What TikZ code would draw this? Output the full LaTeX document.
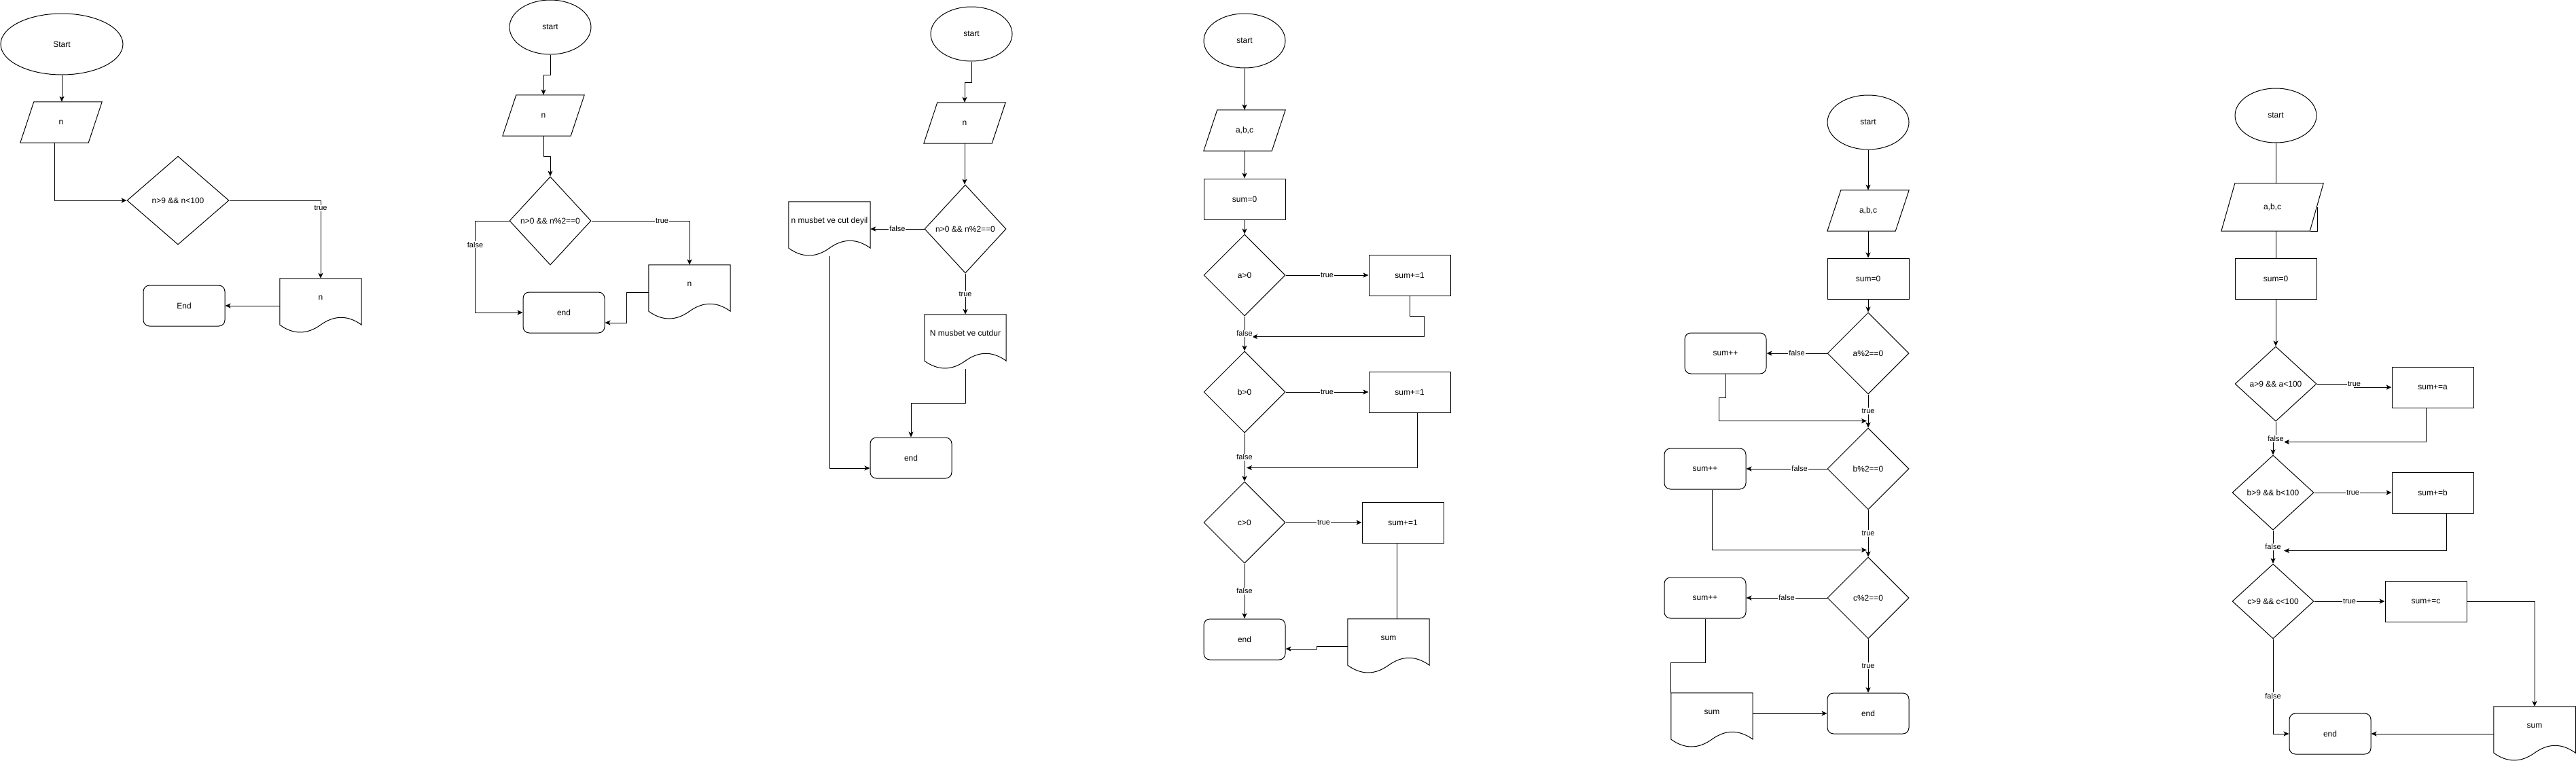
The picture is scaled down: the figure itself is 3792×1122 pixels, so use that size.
\documentclass[tikz,border=0pt]{standalone}
\usepackage{fontspec}
\setmainfont{Liberation Sans}
\usetikzlibrary{shapes.geometric,arrows.meta,calc}

\newcommand\docshape[1]{%
 \draw[conn] let \p1=(#1.north west), \p2=(#1.south east), \n1={\x2-\x1}, \n2={\y1-\y2} in
 (\x1,\y1) -- (\x2,\y1) -- (\x2,{\y1-0.85*\n2})
 .. controls ({\x1+0.8333*\n1},{\y1-0.67*\n2}) and ({\x1+0.6667*\n1},{\y1-0.67*\n2}) .. ({\x1+0.5*\n1},{\y1-0.85*\n2})
 .. controls ({\x1+0.3333*\n1},{\y1-1.03*\n2}) and ({\x1+0.1667*\n1},{\y1-1.03*\n2}) .. (\x1,{\y1-0.85*\n2}) -- cycle;}
\newcommand\parashape[2]{%
 \draw[conn] ([xshift=#2]#1.north west) -- (#1.north east) -- ([xshift=-#2]#1.south east) -- (#1.south west) -- cycle;}

\begin{document}
\begin{tikzpicture}[x=1pt,y=-1pt,
  basebox/.style={font=\fontsize{12}{14}\selectfont, inner sep=0pt, align=center},
  termbox/.style={basebox, ellipse, draw, line width=1pt, minimum width=120, minimum height=80},
  procbox/.style={basebox, rectangle, draw, line width=1pt, minimum width=120, minimum height=60},
  endbox/.style={basebox, rectangle, draw, line width=1pt, rounded corners=9pt, minimum width=120, minimum height=60},
  condbox/.style={basebox, diamond, draw, line width=1pt, minimum width=120, minimum height=120},
  iobox/.style={basebox, rectangle, minimum width=120, minimum height=60},
  docbox/.style={basebox, rectangle, minimum width=120, minimum height=80, text height=9pt, text depth=27pt},
  lbl/.style={font=\fontsize{11}{13}\selectfont, fill=white, inner sep=1pt},
  conn/.style={draw, line width=1pt},
  arrowline/.style={conn, -{Stealth[length=8pt,width=7pt,inset=2pt]}}]
\fill[white] (0,0) rectangle (3792,1122);
\useasboundingbox (0,0) rectangle (3792,1122);

% ---------- chart 1
\node[termbox, minimum width=180, minimum height=90] (s1) at (91,65) {Start};
\node[iobox] (i1) at (90,180) {n}; \parashape{i1}{20pt}
\node[condbox, minimum width=150, minimum height=130] (c1) at (262,295) {n>9 \&\& n<100};
\node[docbox] (o1) at (472,450) {n}; \docshape{o1}
\node[endbox] (e1) at (271,450) {End};
\draw[arrowline] (s1.south) -- (s1.south |- i1.north);
\draw[arrowline] ([xshift=-10pt]i1.south) |- (c1.west);
\draw[arrowline] (c1.east) -| node[lbl,pos=0.55]{true} (o1.north);
\draw[arrowline] (o1.west) -- (e1.east);

% ---------- chart 2
\node[termbox] (s2) at (810,40) {start};
\node[iobox] (i2) at (800,170) {n}; \parashape{i2}{20pt}
\node[condbox, minimum height=130] (c2) at (810,325) {n>0 \&\& n\%2==0};
\node[docbox] (o2) at (1015,430) {n}; \docshape{o2}
\node[endbox] (e2) at (830,460) {end};
\draw[arrowline] (s2.south) -- ++(0,30) -| (i2.north);
\draw[arrowline] (i2.south) -- ++(0,30) -| (c2.north);
\draw[arrowline] (c2.east) -| node[lbl,pos=0.36]{true} (o2.north);
\draw[arrowline] (o2.west) -- ++(-32,0) |- ([yshift=-15pt]e2.east);
\draw[arrowline] (c2.west) -- ++(-50,0) |- node[lbl,pos=0.13]{false} (e2.west);

% ---------- chart 3
\node[termbox] (s3) at (1430,50) {start};
\node[iobox] (i3) at (1420,181) {n}; \parashape{i3}{20pt}
\node[condbox, minimum height=130] (c3) at (1421,337) {n>0 \&\& n\%2==0};
\node[docbox] (of3) at (1221,337) {n musbet ve cut deyil}; \docshape{of3}
\node[docbox] (ot3) at (1421,503) {N musbet ve cutdur}; \docshape{ot3}
\node[endbox] (e3) at (1341,674) {end};
\draw[arrowline] (s3.south) -- ++(0,31) -| (i3.north);
\draw[arrowline] (i3.south) -- (i3.south |- c3.north);
\draw[arrowline] (c3.west) -- node[lbl]{false} (of3.east);
\draw[arrowline] (c3.south) -- node[lbl]{true} (ot3.north);
\draw[arrowline] (ot3.south) -- ++(0,50) -| (e3.north);
\draw[arrowline] (of3.south) |- ([yshift=-15pt]e3.west);

% ---------- chart 4
\node[termbox] (s4) at (1832,60) {start};
\node[iobox] (i4) at (1832,192) {a,b,c}; \parashape{i4}{20pt}
\node[procbox] (r4) at (1832,293) {sum=0};
\node[condbox] (ca4) at (1832,405) {a>0};
\node[procbox] (ra4) at (2075,405) {sum+=1};
\node[condbox] (cb4) at (1832,577) {b>0};
\node[procbox] (rb4) at (2075,577) {sum+=1};
\node[condbox] (cc4) at (1832,769) {c>0};
\node[procbox] (rc4) at (2065,769) {sum+=1};
\node[docbox] (o4) at (2044,951) {sum}; \docshape{o4}
\node[endbox] (e4) at (1832,941) {end};
\draw[arrowline] (s4) -- (i4);
\draw[arrowline] (i4) -- (r4);
\draw[arrowline] (r4) -- (ca4);
\draw[arrowline] (ca4) -- node[lbl]{true} (ra4);
\draw[arrowline] (ra4.south) -- ++(0,30) -- ++(21,0) |- ($(ca4.south)+(11,30)$);
\draw[arrowline] (ca4) -- node[lbl]{false} (cb4);
\draw[arrowline] (cb4) -- node[lbl]{true} (rb4);
\draw[arrowline] ([xshift=11pt]rb4.south) |- ($(cb4.south)+(3,51)$);
\draw[arrowline] (cb4) -- node[lbl]{false} (cc4);
\draw[arrowline] (cc4) -- node[lbl]{true} (rc4);
\draw[conn] ([xshift=-9pt]rc4.south) -- ([xshift=-9pt]rc4.south |- o4.north);
\draw[arrowline] (o4.west) -- ++(-45,0) |- ([yshift=-14pt]e4.east);
\draw[arrowline] (cc4) -- node[lbl]{false} (e4);

% ---------- chart 5
\node[termbox] (s5) at (2750,180) {start};
\node[iobox] (i5) at (2750,310) {a,b,c}; \parashape{i5}{20pt}
\node[procbox] (r5) at (2750,410) {sum=0};
\node[condbox] (ca5) at (2750,520) {a\%2==0};
\node[endbox] (pa5) at (2540,520) {sum++};
\node[condbox] (cb5) at (2750,690) {b\%2==0};
\node[endbox] (pb5) at (2510,690) {sum++};
\node[condbox] (cc5) at (2750,880) {c\%2==0};
\node[endbox] (pc5) at (2510,880) {sum++};
\node[docbox] (o5) at (2520,1060) {sum}; \docshape{o5}
\node[endbox] (e5) at (2750,1050) {end};
\draw[arrowline] (s5) -- (i5);
\draw[arrowline] (i5) -- (r5);
\draw[arrowline] (r5) -- (ca5);
\draw[arrowline] (ca5) -- node[lbl]{false} (pa5);
\draw[arrowline] (pa5.south) -- ++(0,35) -- ++(-10,0) |- ($(cb5.north)+(-2,-10)$);
\draw[arrowline] (ca5) -- node[lbl]{true} (cb5);
\draw[arrowline] (cb5) -- node[lbl,pos=0.34]{false} (pb5);
\draw[arrowline] ([xshift=10pt]pb5.south) |- ($(cc5.north)+(-2,-10)$);
\draw[arrowline] (cb5) -- node[lbl]{true} (cc5);
\draw[arrowline] (cc5) -- node[lbl]{false} (pc5);
\draw[conn] (pc5.south) -- ++(0,65) -| (o5.north west);
\draw[arrowline] (cc5) -- node[lbl]{true} (e5);
\draw[arrowline] (o5.east |- e5.west) -- (e5.west);

% ---------- chart 6
\node[termbox] (s6) at (3350,170) {start};
\draw[conn] (3411,305) -- (3411,340) -- (3401,340);
\node[iobox, minimum width=150, minimum height=70] (i6) at (3345,305) {a,b,c}; \parashape{i6}{20pt}
\node[procbox] (r6) at (3350,410) {sum=0};
\node[condbox, minimum height=110] (ca6) at (3350,565) {a>9 \&\& a<100};
\node[procbox] (ra6) at (3581,570) {sum+=a};
\node[condbox, minimum height=110] (cb6) at (3346,725) {b>9 \&\& b<100};
\node[procbox] (rb6) at (3581,725) {sum+=b};
\node[condbox, minimum height=110] (cc6) at (3346,885) {c>9 \&\& c<100};
\node[procbox] (rc6) at (3571,885) {sum+=c};
\node[docbox] (o6) at (3731,1080) {sum}; \docshape{o6}
\node[endbox] (e6) at (3430,1080) {end};
\draw[conn] (s6.south) -- (s6.south |- i6.north);
\draw[conn] (r6.north |- i6.south) -- (r6.north);
\draw[arrowline] (r6) -- (ca6);
\draw[arrowline] (ca6.east) -- ++(55,0) node[lbl]{true} |- (ra6.west);
\draw[arrowline] ([xshift=-10pt]ra6.south) |- ($(ca6.south)+(12,30)$);
\draw[arrowline] (ca6.south) -- ++(0,25) node[lbl]{false} -| (cb6.north);
\draw[arrowline] (cb6) -- node[lbl]{true} (rb6);
\draw[arrowline] ([xshift=20pt]rb6.south) |- ($(cb6.south)+(16,30)$);
\draw[arrowline] (cb6) -- node[lbl]{false} (cc6);
\draw[arrowline] (cc6) -- node[lbl]{true} (rc6);
\draw[arrowline] (rc6.east) -| (o6.north);
\draw[arrowline] (o6.west) -- (e6.east);
\draw[arrowline] (cc6.south) |- node[lbl,pos=0.3]{false} (e6.west);
\end{tikzpicture}
\end{document}
